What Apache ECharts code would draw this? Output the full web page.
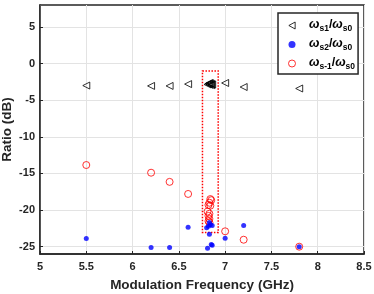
<!DOCTYPE html>
<html><head><meta charset="utf-8">
<script src="https://cdn.jsdelivr.net/npm/echarts@6/dist/echarts.min.js"></script>
<style>html,body{margin:0;padding:0;background:#fff}#c{width:374px;height:294px}</style>
</head><body><div id="c"></div>
<script>
const xTicks = [5, 5.5, 6, 6.5, 7, 7.5, 8, 8.5];
const yTicks = [-25, -20, -15, -10, -5, 0, 5];
const s1X = [5.5, 6.2, 6.4, 6.6, 6.81, 6.82, 6.83, 6.84, 6.85, 6.86, 6.83, 6.85, 7.0, 7.2, 7.8];
const s1Y = [-3.0, -3.05, -3.05, -2.8, -2.85, -2.75, -2.9, -2.7, -2.8, -2.85, -2.65, -2.95, -2.65, -3.2, -3.4];
const s2X = [5.5, 6.2, 6.4, 6.6, 6.80, 6.82, 6.83, 6.84, 6.86, 6.83, 6.81, 6.85, 6.86, 7.0, 7.2, 7.8];
const s2Y = [-23.9, -25.1, -25.1, -22.35, -22.4, -22.2, -21.7, -22.0, -22.1, -23.3, -25.2, -24.7, -24.8, -23.85, -22.1, -25.0];
const sm1X = [5.5, 6.2, 6.4, 6.6, 6.84, 6.85, 6.83, 6.84, 6.82, 6.81, 6.83, 6.82, 6.83, 6.82, 6.83, 7.0, 7.2, 7.8];
const sm1Y = [-13.85, -14.9, -16.15, -17.8, -18.5, -18.65, -19.0, -19.4, -19.3, -20.2, -20.5, -20.8, -21.2, -21.5, -21.7, -22.9, -24.05, -25.0];
const boxX = [6.755, 6.925];
const boxY = [-1.0, -23.05];
const seriesNames = ['s1', 's2', 's-1'];

const zip = (a, b) => a.map((v, i) => [v, b[i]]);
const TRI = 'path://M0,5L9,0L9,10Z';
const chart = echarts.init(document.getElementById('c'), null, {renderer: 'canvas'});
const FONT = 'Liberation Sans';
chart.setOption({
  animation: false,
  backgroundColor: '#fff',
  grid: {left: 40, right: 10, top: 5, bottom: 40, outerBoundsMode: 'none', containLabel: false,
         show: true, borderColor: '#262626', borderWidth: 1.5, backgroundColor: 'transparent'},
  xAxis: {
    type: 'value', min: 5, max: 8.5, interval: 0.5,
    name: 'Modulation Frequency (GHz)', nameLocation: 'middle', nameGap: 24, nameMoveOverlap: false,
    nameTextStyle: {fontFamily: FONT, fontWeight: 'bold', fontSize: 13.5, color: '#262626'},
    axisLine: {show: true, onZero: false, lineStyle: {color: '#262626', width: 1.5}},
    axisTick: {show: true, inside: true, length: 3, lineStyle: {color: '#262626'}},
    axisLabel: {fontFamily: FONT, fontWeight: 'bold', fontSize: 11, color: '#262626', margin: 7, formatter: v => String(v)},
    splitLine: {show: true, lineStyle: {color: '#e3e3e3', width: 1}}
  },
  yAxis: {
    type: 'value', min: -26, max: 8,
    name: 'Ratio (dB)', nameLocation: 'middle', nameGap: 26, nameMoveOverlap: false,
    nameTextStyle: {fontFamily: FONT, fontWeight: 'bold', fontSize: 13.5, color: '#262626'},
    axisLine: {show: true, onZero: false, lineStyle: {color: '#262626', width: 1.5}},
    axisTick: {show: true, inside: true, length: 3, lineStyle: {color: '#262626'}, customValues: yTicks},
    axisLabel: {fontFamily: FONT, fontWeight: 'bold', fontSize: 11, color: '#262626', margin: 5, customValues: yTicks},
    splitLine: {show: true, lineStyle: {color: '#e3e3e3', width: 1}}
  },
  legend: {
    orient: 'vertical', left: 278, top: 13,
    backgroundColor: '#fff', borderColor: '#262626', borderWidth: 1.5, borderRadius: 0,
    padding: [5, 3, 3, 10], itemGap: 4, itemWidth: 8, itemHeight: 7,
    data: [
      {name: 's1', icon: TRI, itemStyle: {color: 'rgba(255,255,255,0)', borderColor: '#000', borderWidth: 1}},
      {name: 's2', icon: 'circle', itemStyle: {color: '#0000ff', borderWidth: 0}},
      {name: 's-1', icon: 'circle', itemStyle: {color: 'rgba(255,255,255,0)', borderColor: '#ff0000', borderWidth: 1}}
    ],
    formatter: n => '{p|}{w|ω}{s|' + n + '}{d|/}{w|ω}{s|s0}',
    textStyle: {
      fontFamily: FONT, color: '#000',
      rich: {
        p: {width: 8, height: 15},
        w: {fontSize: 12.5, fontStyle: 'italic', fontWeight: 'bold', fontFamily: FONT, lineHeight: 14, verticalAlign: 'top'},
        d: {fontSize: 12.5, fontWeight: 'bold', fontFamily: FONT, lineHeight: 13, verticalAlign: 'top'},
        s: {fontSize: 8.5, fontWeight: 'bold', fontFamily: FONT, lineHeight: 8, verticalAlign: 'bottom'}
      }
    }
  },
  series: [
    {
      name: 's1', type: 'scatter', data: zip(s1X, s1Y),
      symbol: TRI, symbolSize: [7, 7],
      itemStyle: {color: 'rgba(255,255,255,0)', borderColor: '#000', borderWidth: 1}
    },
    {
      name: 's-1', type: 'scatter', data: zip(sm1X, sm1Y),
      symbol: 'circle', symbolSize: 7,
      itemStyle: {color: 'rgba(255,255,255,0)', borderColor: '#ff0000', borderWidth: 1},
      markArea: {
        silent: true,
        itemStyle: {color: 'rgba(0,0,0,0)', borderColor: '#ff0000', borderWidth: 1.5, borderType: [1.5, 1.5], borderRadius: 3},
        data: [[{coord: [boxX[0], boxY[0]]}, {coord: [boxX[1], boxY[1]]}]]
      }
    },
    {
      name: 's2', type: 'scatter', data: zip(s2X, s2Y),
      symbol: 'circle', symbolSize: 5,
      itemStyle: {color: '#0000ff'}
    }
  ]
});
</script></body></html>
